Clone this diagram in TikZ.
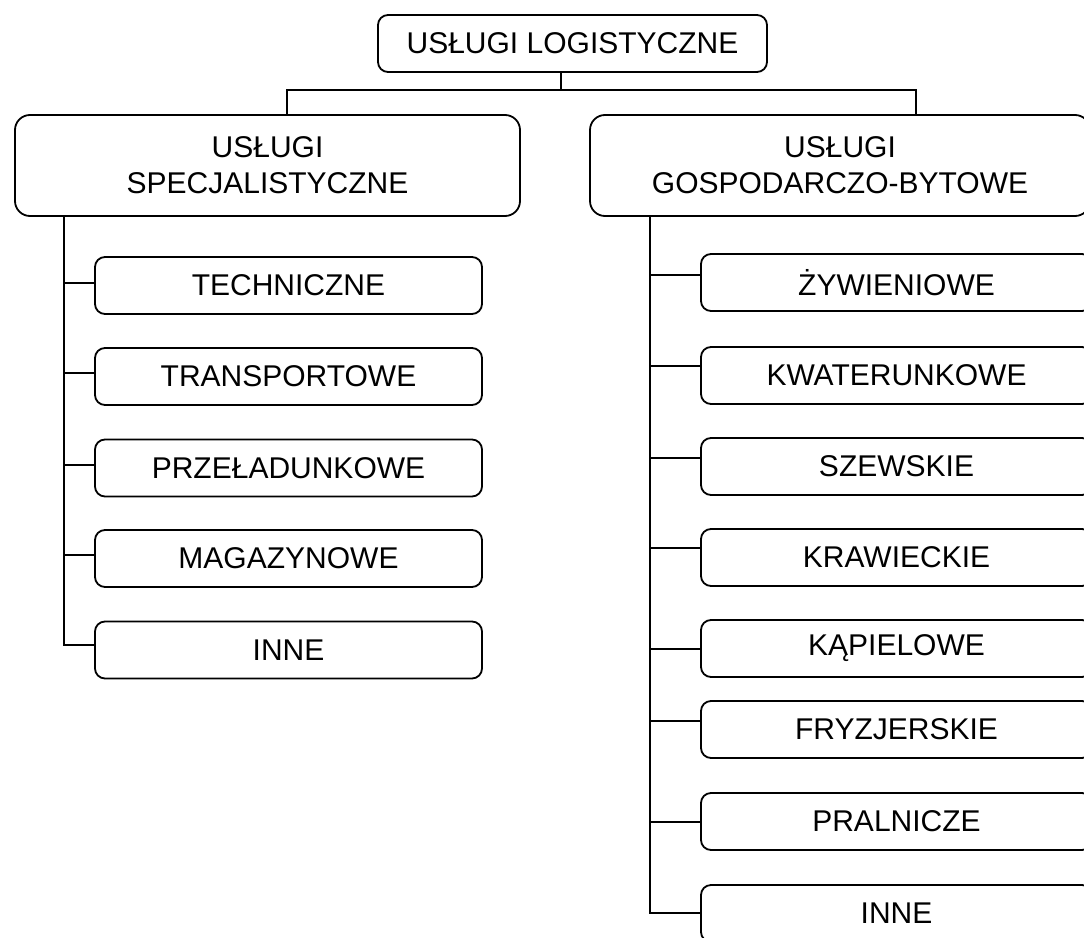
\documentclass[tikz,border=0pt]{standalone}
\usepackage{fontspec}
\setmainfont{Liberation Sans}
\usetikzlibrary{calc}
\begin{document}
\begin{tikzpicture}[x=1pt,y=-1pt,
  line width=1.8pt,
  every node/.style={font=\fontsize{30}{36}\selectfont, inner sep=0pt, align=center},
  headbox/.style={draw, rounded corners=10pt, minimum width=389pt, minimum height=57pt},
  groupbox/.style={draw, rounded corners=15pt, minimum height=101pt},
  leafL/.style={draw, rounded corners=10pt, minimum width=387pt, minimum height=57pt},
  leafR/.style={draw, rounded corners=10pt, minimum width=391pt, minimum height=57pt}]
% page frame
\useasboundingbox (0,0) rectangle (1084,937);
\fill[white] (0,0) rectangle (1084,937);
\clip (0,0) rectangle (1084,937);

% root
\node[headbox] (top) at (572.5,43.5) {USŁUGI LOGISTYCZNE};

% two groups
\node[groupbox, minimum width=505pt] (lbig) at (267.5,165.5) {USŁUGI\\SPECJALISTYCZNE};
\node[groupbox, minimum width=500pt] (rbig) at (840,165.5) {USŁUGI\\GOSPODARCZO-BYTOWE};

% specialist services
\node[leafL] (l1) at (288.5,285.5) {TECHNICZNE};
\node[leafL] (l2) at (288.5,376.5) {TRANSPORTOWE};
\node[leafL] (l3) at (288.5,468)   {PRZEŁADUNKOWE};
\node[leafL] (l4) at (288.5,558.5) {MAGAZYNOWE};
\node[leafL] (l5) at (288.5,650)   {INNE};

% household services
\node[leafR] (r1) at (896.5,282.5) {ŻYWIENIOWE};
\node[leafR] (r2) at (896.5,375.5) {KWATERUNKOWE};
\node[leafR] (r3) at (896.5,466.5) {SZEWSKIE};
\node[leafR] (r4) at (896.5,557.5) {KRAWIECKIE};
\node[leafR] (r5) at (896.5,648.5) {KĄPIELOWE};
\node[leafR] (r6) at (896.5,729.5) {FRYZJERSKIE};
\node[leafR] (r7) at (896.5,821.5) {PRALNICZE};
\node[leafR] (r8) at (896.5,913.5) {INNE};

% root to groups
\coordinate (bar) at (561,90);
\draw ([xshift=-11.5pt]top.south) -- (bar);
\draw ([xshift=19.5pt]lbig.north) |- (bar) -| ([xshift=76pt]rbig.north);

% trunks
\coordinate (lt) at ([xshift=50pt]lbig.south west);
\coordinate (rt) at ([xshift=61pt]rbig.south west);
\draw (lt) |- ([yshift=5pt]l5.west);
\draw (rt) |- ([yshift=0.5pt]r8.west);

% branches
\foreach \n/\s in {l1/2.5,l2/3.5,l3/3,l4/3.5}
  \draw ([yshift=\s pt]\n.west) -- ($(lt |- \n.west)+(0pt,\s pt)$);
\foreach \n/\s in {r1/7.5,r2/9.5,r3/8.5,r4/9.5,r5/-0.5,r6/8.5,r7/-0.5}
  \draw ([yshift=\s pt]\n.west) -- ($(rt |- \n.west)+(0pt,\s pt)$);
\end{tikzpicture}
\end{document}
